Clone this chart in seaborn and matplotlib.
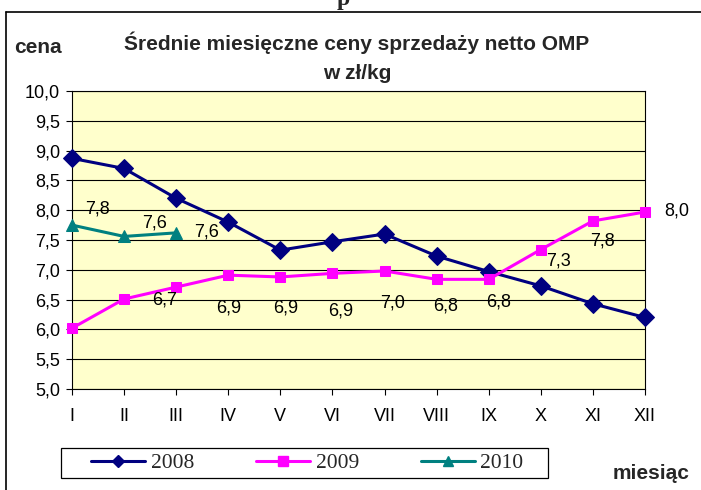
import numpy as np
import pandas as pd
import seaborn as sns
from matplotlib import pyplot as plt
from matplotlib.lines import Line2D
from matplotlib.patches import Rectangle
from matplotlib.ticker import FuncFormatter

# dane
miesiace = ["I", "II", "III", "IV", "V", "VI", "VII", "VIII", "IX", "X", "XI", "XII"]
ceny_2008 = [8.87, 8.70, 8.20, 7.80, 7.33, 7.47, 7.60, 7.23, 6.97, 6.73, 6.43, 6.20]
ceny_2009 = [6.02, 6.51, 6.71, 6.91, 6.88, 6.94, 6.98, 6.84, 6.84, 7.34, 7.82, 7.97]
ceny_2010 = [7.75, 7.56, 7.62]
lata = ["2008", "2009", "2010"]

W, H = 701, 490


def px(x, y):
    # pixel (from top-left) -> figure fraction
    return x / W, 1 - y / H


def fmt(v):
    return f"{v:.1f}".replace(".", ",")


sns.set_theme(style="white")
plt.rcParams["font.family"] = ["Liberation Sans", "DejaVu Sans"]

fig = plt.figure(figsize=(W / 100, H / 100), dpi=100)
ax = fig.add_axes([72 / W, 1 - 389 / H, (645 - 72) / W, (389 - 91) / H])
ax.set_facecolor("#FFFFCC")

styles = {
    "2008": dict(color="#000080", marker="D", markersize=9.5),
    "2009": dict(color="#FF00FF", marker="s", markersize=7),
    "2010": dict(color="#008080", marker="^", markersize=8.5),
}

for rok, ceny in zip(lata, [ceny_2008, ceny_2009, ceny_2010]):
    df = pd.DataFrame({"miesiac": np.arange(len(ceny)), "cena": ceny})
    st = styles[rok]
    sns.lineplot(data=df, x="miesiac", y="cena", ax=ax, color=st["color"],
                 marker=st["marker"], markersize=st["markersize"],
                 markeredgecolor=st["color"], lw=2.2, clip_on=False,
                 zorder=3, legend=False)

# etykiety danych (przesuniecia w pikselach)
off_2009 = {2: (-12, -13), 3: (0, -33), 4: (5, -31), 5: (8, -38), 6: (8, -32),
            7: (9, -27), 8: (10, -23), 9: (18, -11), 10: (10, -20), 11: (32, 1)}
off_2010 = {0: (26, 16), 1: (30, 13), 2: (30, 1)}
for ceny, offs in [(ceny_2009, off_2009), (ceny_2010, off_2010)]:
    for i, (dx, dy) in offs.items():
        ax.annotate(fmt(ceny[i]), (i, ceny[i]), xytext=(dx * 0.72, dy * 0.72),
                    textcoords="offset points", ha="center", va="center",
                    fontsize=13, color="black", zorder=4, annotation_clip=False)

ax.set_xlim(0, 11)
ax.set_ylim(5, 10)
ax.set_xticks(range(12))
ax.set_xticklabels(miesiace)
ax.set_yticks(np.arange(5, 10.01, 0.5))
ax.yaxis.set_major_formatter(FuncFormatter(lambda v, p: fmt(v)))
ax.set_xlabel("")
ax.set_ylabel("")
ax.yaxis.grid(True, color="black", lw=0.8)
ax.xaxis.grid(False)
ax.set_axisbelow(True)
for s in ax.spines.values():
    s.set_color("black")
    s.set_linewidth(0.8)
ax.tick_params(axis="both", direction="out", length=4.3, width=0.8,
               color="black", labelsize=13, labelcolor="black")
ax.tick_params(axis="y", pad=4.3, left=True)
ax.tick_params(axis="x", pad=9.5, bottom=True)

# tytul i opisy osi
fig.text(*px(357, 50), "Średnie miesięczne ceny sprzedaży netto OMP",
         ha="center", va="baseline", fontsize=15, fontweight="bold")
fig.text(*px(357, 79), "w zł/kg", ha="center", va="baseline",
         fontsize=15, fontweight="bold")
fig.text(*px(14, 53), "cena", ha="left", va="baseline", fontsize=15, fontweight="bold")
fig.text(*px(690, 479), "miesiąc", ha="right", va="baseline", fontsize=15,
         fontweight="bold")

# legenda
handles = [Line2D([], [], color=styles[r]["color"], lw=2.2, marker=styles[r]["marker"],
                  markersize=6.5, markeredgecolor=styles[r]["color"]) for r in lata]
fig.legend(handles, lata, loc="center", bbox_to_anchor=px(307.5, 463), ncol=3,
           frameon=False, prop={"family": "Liberation Serif", "size": 15.5},
           handlelength=2.5, handletextpad=0.25, columnspacing=2.9, borderpad=0)
fig.add_artist(Rectangle(px(61, 478), (548 - 61) / W, 30 / H, transform=fig.transFigure,
                         facecolor="none", edgecolor="black", lw=0.9))

# ramka i fragment tekstu dokumentu (uciety u gory, jak w oryginale)
fig.add_artist(Line2D([6 / W, 1.01], [1 - 12 / H] * 2, transform=fig.transFigure,
                      color="black", lw=1.2))
fig.add_artist(Line2D([6 / W] * 2, [1 - 12 / H, -0.01], transform=fig.transFigure,
                      color="black", lw=1.2))
fig.text(*px(343, 5.5), "p", ha="center", va="baseline", fontsize=17,
         fontweight="bold", family="Liberation Serif")

fig.savefig("out.png", dpi=100)
